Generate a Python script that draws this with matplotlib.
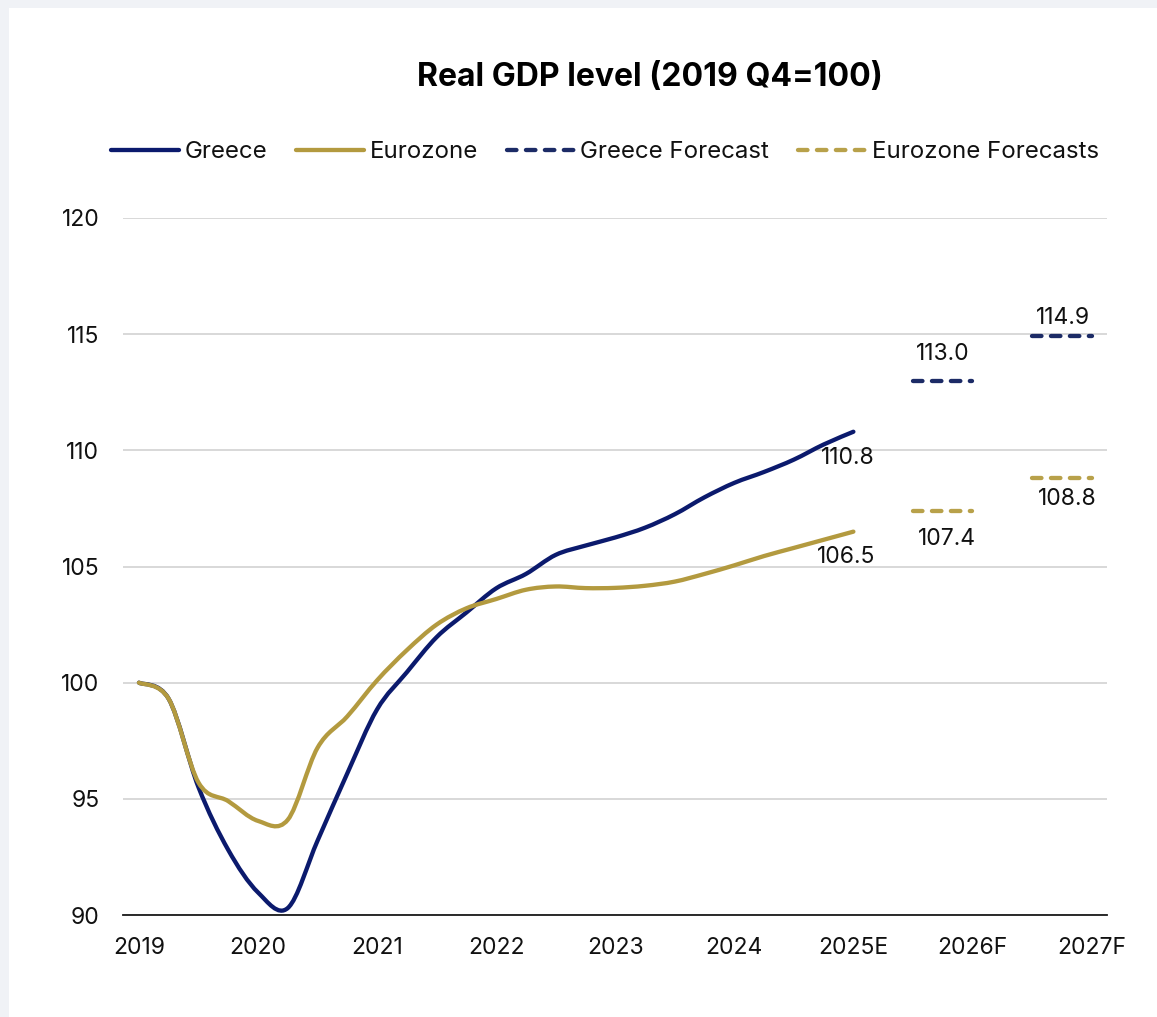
import matplotlib.pyplot as plt
import numpy as np
from matplotlib.lines import Line2D
from matplotlib.patches import PathPatch, Rectangle
from matplotlib.path import Path

plt.rcParams["font.family"] = ["Inter", "DejaVu Sans"]

year_labels = ["2019", "2020", "2021", "2022", "2023", "2024", "2025E", "2026F", "2027F"]

# Quarterly real GDP index, 2019 Q4 = 100, through 2025 Q4
greece_level = [
    100.0, 99.3, 95.5, 92.8, 90.97, 90.3, 93.2, 96.1, 98.85,
    100.45, 101.96, 103.02, 104.06, 104.68, 105.5, 105.9, 106.25,
    106.67, 107.25, 107.98, 108.6, 109.07, 109.6, 110.25, 110.8,
]
eurozone_level = [
    100.0, 99.3, 95.7, 94.9, 94.05, 94.1, 97.2, 98.55, 100.1,
    101.4, 102.5, 103.2, 103.6, 104.0, 104.14, 104.07, 104.08,
    104.17, 104.35, 104.68, 105.05, 105.45, 105.8, 106.15, 106.5,
]

forecast_years = ["2026F", "2027F"]
greece_forecast = [113.0, 114.9]
eurozone_forecast = [107.4, 108.8]

NAVY = "#0b1a6d"
NAVY_FC = "#1c2b66"
GOLD = "#b39a3f"
GOLD_FC = "#b8a14a"
DASH = (0, (2.2, 2.2))


def smooth_path(x, y):
    """Bezier path through the points, like a spreadsheet 'smoothed line'."""
    pts = np.column_stack([x, y]).astype(float)
    padded = np.vstack([pts[0], pts, pts[-1]])
    verts = [pts[0]]
    codes = [Path.MOVETO]
    for i in range(len(pts) - 1):
        p0, p1, p2, p3 = padded[i], padded[i + 1], padded[i + 2], padded[i + 3]
        verts += [p1 + (p2 - p0) / 6, p2 - (p3 - p1) / 6, p2]
        codes += [Path.CURVE4] * 3
    return Path(verts, codes)


W, H = 1157, 1017
fig = plt.figure(figsize=(W / 100, H / 100), dpi=100, facecolor="#f0f2f6")
fig.patches.append(Rectangle((9 / W, 0), 1, 1 - 8 / H, transform=fig.transFigure,
                             facecolor="white", edgecolor="none", zorder=-10))

ax = fig.add_axes([123 / W, 1 - 915 / H, (1107 - 123) / W, (915 - 218) / H])
ax.set_facecolor("white")
ax.set_zorder(1)

quarter_x = np.arange(len(greece_level)) / 4.0
for values, color in [(greece_level, NAVY), (eurozone_level, GOLD)]:
    ax.add_patch(PathPatch(smooth_path(quarter_x, values), fill=False, edgecolor=color,
                           linewidth=3.1, capstyle="round", joinstyle="round", zorder=3))

fc_x = np.array([year_labels.index(y) for y in forecast_years], dtype=float)
for xe, g, e in zip(fc_x, greece_forecast, eurozone_forecast):
    ax.plot([xe - 0.5, xe], [g, g], color=NAVY_FC, lw=3.1, ls=DASH,
            dash_capstyle="round", zorder=3)
    ax.plot([xe - 0.5, xe], [e, e], color=GOLD_FC, lw=3.1, ls=DASH,
            dash_capstyle="round", zorder=3)

label_kw = dict(textcoords="offset points", ha="center", va="center", fontsize=16.5,
                color="#111111")
ax.annotate(f"{greece_level[-1]:.1f}", (quarter_x[-1], greece_level[-1]), xytext=(-4, -19), **label_kw)
ax.annotate(f"{eurozone_level[-1]:.1f}", (quarter_x[-1], eurozone_level[-1]), xytext=(-5, -18), **label_kw)
g_off = [(0, 19), (1, 13)]
e_off = [(3, -20), (4, -15)]
for xe, g, e, go, eo in zip(fc_x, greece_forecast, eurozone_forecast, g_off, e_off):
    ax.annotate(f"{g:.1f}", (xe - 0.25, g), xytext=go, **label_kw)
    ax.annotate(f"{e:.1f}", (xe - 0.25, e), xytext=eo, **label_kw)

ax.set_xlim(-0.134, 8.13)
ax.set_ylim(90, 120)
ax.set_xticks(np.arange(len(year_labels)))
ax.set_xticklabels(year_labels)
ax.set_yticks(np.arange(90, 121, 5))
ax.tick_params(axis="x", length=0, pad=16, labelsize=16.5, labelcolor="#111111")
ax.tick_params(axis="y", length=0, pad=17, labelsize=16.5, labelcolor="#111111")
ax.grid(axis="y", color="#d6d6d6", linewidth=1.3)
ax.set_axisbelow(True)
for side in ["top", "right", "left"]:
    ax.spines[side].set_visible(False)
ax.spines["bottom"].set_color("#1a1a1a")
ax.spines["bottom"].set_linewidth(1.3)
ax.spines["bottom"].set_zorder(2)

fig.text(650 / W, 1 - 78 / H, "Real GDP level (2019 Q4=100)", ha="center", va="center",
         fontsize=23, fontweight="bold", color="black")

handles = [
    Line2D([], [], color=NAVY, lw=3.1, solid_capstyle="round"),
    Line2D([], [], color=GOLD, lw=3.1, solid_capstyle="round"),
    Line2D([], [], color=NAVY_FC, lw=3.1, ls=DASH, dash_capstyle="round"),
    Line2D([], [], color=GOLD_FC, lw=3.1, ls=DASH, dash_capstyle="round"),
]
fig.legend(handles, ["Greece", "Eurozone", "Greece Forecast", "Eurozone Forecasts"],
           loc="center", bbox_to_anchor=(605 / W, 1 - 152 / H), ncol=4, frameon=False,
           fontsize=17.3, handlelength=2.8, handletextpad=0.26, columnspacing=1.2,
           labelcolor="#111111")

fig.savefig("out.png", dpi=100, facecolor=fig.get_facecolor())
